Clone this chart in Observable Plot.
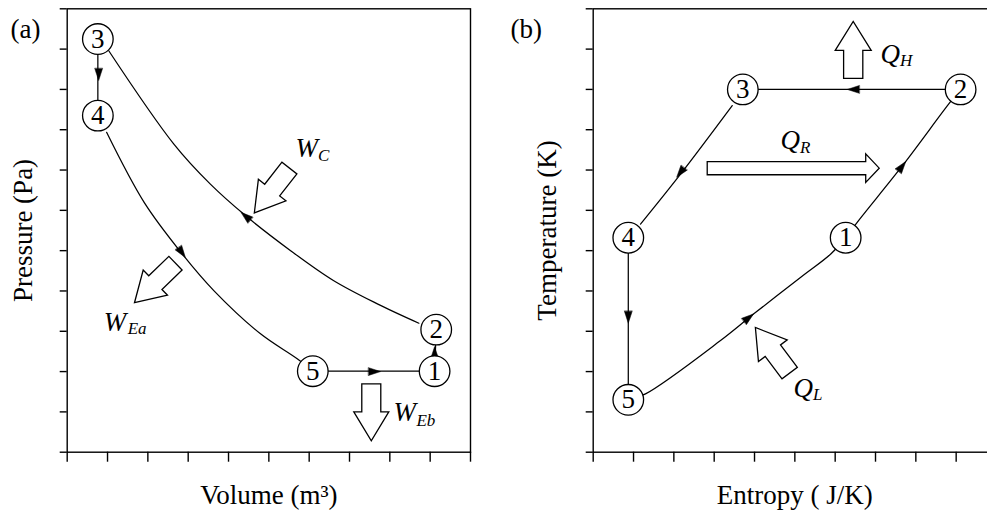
<!DOCTYPE html>
<html><head><meta charset="utf-8">
<script src="https://cdn.jsdelivr.net/npm/d3@7"></script>
<script src="https://cdn.jsdelivr.net/npm/@observablehq/plot@0.6"></script>
<style>
html,body{margin:0;padding:0;background:#fff;overflow:hidden;}
#wrap{position:relative;width:987px;height:513px;overflow:hidden;background:#fff;}
#a{position:absolute;left:0;top:0;width:480px;height:513px;}
#b{position:absolute;left:500px;top:0;width:500px;height:513px;}
svg{max-width:none !important;display:block;}
svg text, svg tspan{font-family:"Liberation Serif","Tinos","Times New Roman","Nimbus Roman","Nimbus Roman No9 L","FreeSerif","Noto Serif","DejaVu Serif","Times",serif !important;}
</style></head><body>
<div id="wrap"><div id="a"></div><div id="b"></div></div>
<script>
// ---------- shared axes ----------
const ticksX = [0,1,2,3,4,5,6,7,8,9,10];
const ticksY = [0,1,2,3,4,5,6,7,8,9,10,11];

// ---------- panel (a): P–V diagram ----------
const stateIdsA = ["1","2","3","4","5"];
const stateVolA = [9.11, 9.15, 0.76, 0.76, 6.09];
const statePresA = [2.01, 3.04, 10.25, 8.35, 2.01];

// process 2 -> 3 (compression)
const path23VolA = [8.72, 7.69, 6.60, 5.54, 4.42, 3.55, 2.64, 1.03];
const path23PresA = [3.20, 3.68, 4.26, 5.00, 5.87, 6.65, 7.65, 9.96];
// process 3 -> 4
const path34VolA = [0.76, 0.76];
const path34PresA = [10.25, 8.35];
// process 4 -> 5 (expansion a)
const path45VolA = [0.977, 1.912, 2.851, 3.635, 4.793, 5.703, 6.09];
const path45PresA = [7.935, 6.19, 4.919, 4.009, 2.936, 2.316, 2.01];
// process 5 -> 1 (expansion b)
const path51VolA = [6.09, 9.11];
const path51PresA = [2.01, 2.01];
// process 1 -> 2
const path12VolA = [9.11, 9.15];
const path12PresA = [2.01, 3.04];

// flow-direction arrowheads (tip position, heading in degrees)
const headVolA = [0.78, 4.31, 2.93, 7.77, 9.11];
const headPresA = [9.22, 5.95, 4.83, 2.00, 2.62];
const headAngleA = [180, 310, 145, 90, 0];

// work arrows (tail position, heading)
const workVolA = [5.51, 2.685, 7.54];
const workPresA = [7.05, 4.69, 1.696];
const workAngleA = [218, 226, 180];
const workMainA = ["W", "W", "W"];
const workMainVolA = [5.66, 0.907, 8.09];
const workMainPresA = [7.33, 3.018, 0.786];
const workSubA = ["C", "Ea", "Eb"];
const workSubVolA = [6.22, 1.50, 8.66];
const workSubPresA = [7.23, 2.931, 0.662];

// ---------- panel (b): T–S diagram ----------
const stateIdsB = ["1","2","3","4","5"];
const stateEntB = [6.26, 9.11, 3.71, 0.87, 0.87];
const stateTempB = [5.32, 9.00, 9.00, 5.32, 1.30];

const path23EntB = [9.11, 3.71];
const path23TempB = [9.00, 9.00];
const path34EntB = [3.447, 2.165, 1.173];
const path34TempB = [8.60, 6.90, 5.66];
const path45EntB = [0.87, 0.87];
const path45TempB = [5.32, 1.30];
const path51EntB = [0.87, 1.297, 3.157, 3.982, 5.147, 5.891, 6.26];
const path51TempB = [1.30, 1.448, 2.771, 3.432, 4.342, 4.919, 5.32];
const path12EntB = [6.26, 6.546, 7.702, 8.817, 9.11];
const path12TempB = [5.32, 5.703, 7.151, 8.639, 9.00];

const headEntB = [6.30, 2.07, 0.87, 3.975, 7.75];
const headTempB = [9.00, 6.82, 3.20, 3.43, 7.21];
const headAngleB = [270, 217.6, 180, 51.6, 37.7];

// heat arrows: Q_H and Q_L (short), Q_R (long)
const heatEntB = [6.447, 4.872];
const heatTempB = [9.274, 1.964];
const heatAngleB = [0, 323];
const regenEntB = [2.827];
const regenTempB = [7.047];
const regenAngleB = [90];
const heatMainB = ["Q", "Q", "Q"];
const heatMainEntB = [7.124, 4.644, 4.967];
const heatMainTempB = [9.663, 7.530, 1.381];
const heatSubB = ["H", "R", "L"];
const heatSubEntB = [7.607, 5.13, 5.45];
const heatSubTempB = [9.588, 7.431, 1.299];

// ---------- drawing helpers ----------
const SERIF = "Liberation Serif";

function triangleShape(half) {
  return {draw(ctx, l) { ctx.moveTo(-half, 0); ctx.lineTo(0, -l); ctx.lineTo(half, 0); ctx.closePath(); }};
}
function blockShape(sw, hw, hl) {
  return {draw(ctx, l) {
    const b = -(l - hl);
    ctx.moveTo(-sw, 0); ctx.lineTo(-sw, b); ctx.lineTo(-hw, b); ctx.lineTo(0, -l);
    ctx.lineTo(hw, b); ctx.lineTo(sw, b); ctx.lineTo(sw, 0); ctx.closePath();
  }};
}
const idx = (a) => a.map((_, i) => i);
const lineMark = (xs, ys, curve) => Plot.line(idx(xs), {x: xs, y: ys, stroke: "black", strokeWidth: 1.25, curve: curve || "catmull-rom"});

function panel({width, ml, mr, tag, xlabel, ylabel, ydx, lines, heads, states, blocks, labels}) {
  return Plot.plot({
    width, height: 513,
    marginLeft: ml, marginRight: mr, marginTop: 8.3, marginBottom: 61.3,
    x: {domain: [0, 10]}, y: {domain: [0, 11]},
    style: {fontFamily: SERIF, background: "white", maxWidth: "none", color: "black"},
    marks: [
      Plot.frame({stroke: "black", strokeWidth: 1.4}),
      Plot.axisX({ticks: ticksX, tickSize: 10, tickFormat: () => "", label: null, strokeWidth: 1.4}),
      Plot.axisY({ticks: ticksY, tickSize: 7, tickFormat: () => "", label: null, strokeWidth: 1.4}),
      Plot.text([xlabel], {text: d => d, frameAnchor: "bottom", textAnchor: "middle", lineAnchor: "bottom", dy: 51.3, fontSize: 27, fontFamily: SERIF, fill: "black"}),
      Plot.text([ylabel], {text: d => d, frameAnchor: "left", textAnchor: "middle", lineAnchor: "middle", rotate: -90, dx: ydx, fontSize: 27, fontFamily: SERIF, fill: "black"}),
      Plot.text([tag], {text: d => d, frameAnchor: "top-left", textAnchor: "start", lineAnchor: "bottom", dx: -(ml - 10), dy: 29, fontSize: 27, fontFamily: SERIF, fill: "black"}),
      ...lines,
      Plot.vector(idx(heads.x), {x: heads.x, y: heads.y, rotate: heads.a, length: 12, anchor: "end", shape: triangleShape(3.9), fill: "black", stroke: "black", strokeWidth: 0.5}),
      Plot.dot(idx(states.x), {x: states.x, y: states.y, r: 15.3, fill: "white", stroke: "black", strokeWidth: 1.3}),
      Plot.text(states.ids, {x: states.x, y: states.y, text: d => d, fontSize: 27, fontFamily: SERIF, fill: "black"}),
      ...blocks,
      Plot.text(labels.main, {x: labels.mx, y: labels.my, text: d => d, textAnchor: "start", lineAnchor: "bottom", fontSize: 27, fontStyle: "italic", fontFamily: SERIF, fill: "black"}),
      Plot.text(labels.sub, {x: labels.sx, y: labels.sy, text: d => d, textAnchor: "start", lineAnchor: "bottom", fontSize: 17, fontStyle: "italic", fontFamily: SERIF, fill: "black"})
    ]
  });
}

const blockStyle = {fill: "white", stroke: "black", strokeWidth: 1.3, strokeLinejoin: "miter", anchor: "start"};

const plotA = panel({
  width: 480, ml: 66.7, mr: 480 - 470, tag: "(a)", xlabel: "Volume (m³)", ylabel: "Pressure (Pa)", ydx: -44,
  lines: [
    lineMark(path23VolA, path23PresA),
    lineMark(path34VolA, path34PresA, "linear"),
    lineMark(path45VolA, path45PresA),
    lineMark(path51VolA, path51PresA, "linear"),
    lineMark(path12VolA, path12PresA, "linear")
  ],
  heads: {x: headVolA, y: headPresA, a: headAngleA},
  states: {ids: stateIdsA, x: stateVolA, y: statePresA},
  blocks: [
    Plot.vector(idx(workVolA), {x: workVolA, y: workPresA, rotate: workAngleA, length: 57, shape: blockShape(9.5, 17.5, 29), ...blockStyle})
  ],
  labels: {main: workMainA, mx: workMainVolA, my: workMainPresA, sub: workSubA, sx: workSubVolA, sy: workSubPresA}
});

const plotB = panel({
  width: 500, ml: 92.7, mr: 500 - 92.7 - 403.3, tag: "(b)", xlabel: "Entropy ( J/K)", ylabel: "Temperature (K)", ydx: -46,
  lines: [
    lineMark(path23EntB, path23TempB, "linear"),
    lineMark(path34EntB, path34TempB),
    lineMark(path45EntB, path45TempB, "linear"),
    lineMark(path51EntB, path51TempB),
    lineMark(path12EntB, path12TempB)
  ],
  heads: {x: headEntB, y: headTempB, a: headAngleB},
  states: {ids: stateIdsB, x: stateEntB, y: stateTempB},
  blocks: [
    Plot.vector(idx(heatEntB), {x: heatEntB, y: heatTempB, rotate: heatAngleB, length: 57, shape: blockShape(9.6, 18, 29), ...blockStyle}),
    Plot.vector(idx(regenEntB), {x: regenEntB, y: regenTempB, rotate: regenAngleB, length: 172, shape: blockShape(6.6, 14.3, 13.5), ...blockStyle})
  ],
  labels: {main: heatMainB, mx: heatMainEntB, my: heatMainTempB, sub: heatSubB, sx: heatSubEntB, sy: heatSubTempB}
});

document.getElementById("a").appendChild(plotA);
document.getElementById("b").appendChild(plotB);
</script>
</body></html>
